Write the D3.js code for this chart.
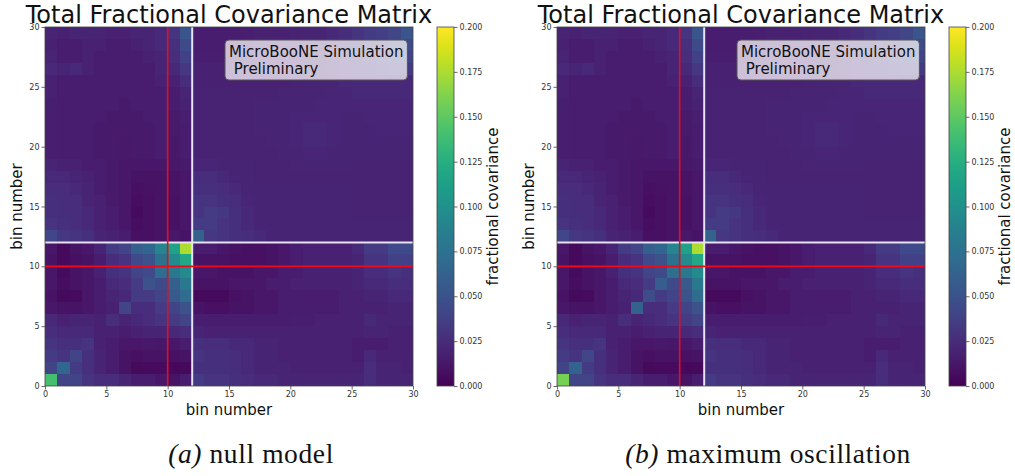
<!DOCTYPE html>
<html><head><meta charset="utf-8">
<script src="https://cdn.jsdelivr.net/npm/d3@7"></script>
<style>body{margin:0;background:#fff}svg{display:block}</style>
</head><body>
<svg id="c" width="1015" height="476"></svg>
<script>
// Fractional covariance (x 0.001), rows from bin 0 (bottom) to bin 29 (top), columns bin 0..29
const matrixNull = [
 [140,40,40,30,25,25,20,15,15,12,10,15, 35,30,30,28,25,22,22,20,20,20,20,20,20,20,25,20,20,20],
 [40,65,35,28,20,15,10,5,6,6,4,5, 28,28,28,25,22,20,20,20,18,18,18,18,18,18,25,20,20,18],
 [35,30,40,28,20,15,10,8,10,10,8,10, 30,28,28,25,22,20,20,18,18,18,18,18,18,16,22,18,18,18],
 [30,28,28,30,18,15,12,12,13,12,12,15, 28,25,25,22,22,20,20,18,18,18,18,18,18,16,16,16,18,18],
 [25,22,22,22,18,18,16,18,20,20,22,25, 20,18,18,18,18,18,18,18,18,18,18,18,18,18,20,20,18,18],
 [22,18,20,20,18,25,20,22,25,30,35,40, 15,15,15,15,15,15,16,16,17,17,18,18,18,18,22,20,20,20],
 [12,10,10,12,15,18,40,25,25,35,40,50, 10,8,8,10,10,12,12,15,15,15,16,16,18,18,18,18,20,20],
 [10,5,6,12,15,20,22,35,35,40,55,70, 5,5,5,8,10,12,12,15,15,15,16,16,18,18,20,20,22,22],
 [12,7,10,12,15,22,25,35,50,45,60,80, 10,10,10,12,12,12,15,15,18,18,18,18,18,20,22,22,25,25],
 [12,6,10,12,18,28,30,40,45,70,80,95, 12,12,10,10,10,12,12,15,15,18,18,18,18,20,25,25,30,28],
 [10,5,8,10,15,25,30,45,50,75,95,120, 10,10,10,8,8,8,10,12,15,18,18,18,18,20,30,30,38,38],
 [12,5,10,12,20,35,40,60,65,90,115,175, 15,15,12,10,8,8,10,12,15,18,18,18,18,22,35,35,45,45],
 [42,32,30,28,20,18,15,8,8,10,12,10, 62,32,30,28,25,22,20,20,20,20,20,20,20,20,20,20,20,20],
 [30,28,25,22,18,15,12,7,8,10,9,12, 35,35,30,28,22,20,20,20,20,20,20,20,20,20,20,20,20,20],
 [28,25,25,22,18,15,12,6,8,10,9,12, 30,35,32,28,22,20,20,20,20,20,20,20,20,19,19,19,19,19],
 [28,25,25,20,18,14,12,7,8,10,9,12, 30,30,28,25,21,20,20,20,20,20,20,20,20,19,19,19,19,19],
 [25,25,22,20,16,14,12,8,9,10,10,12, 28,28,25,22,20,20,20,20,20,20,20,20,20,19,19,19,19,19],
 [22,22,20,18,16,14,12,10,10,10,10,12, 25,25,22,20,20,19,19,19,19,19,19,19,19,19,19,19,19,19],
 [20,18,18,16,15,14,12,12,12,12,12,14, 21,21,20,20,20,19,19,19,20,20,20,20,20,19,19,19,19,19],
 [17,15,15,15,14,14,13,14,14,15,13,16, 19,19,19,19,19,19,19,20,20,21,21,20,20,20,20,20,20,20],
 [17,16,15,15,14,14,13,14,14,15,13,16, 19,19,19,19,19,19,20,20,21,22,22,21,20,20,20,20,20,20],
 [17,16,15,15,14,14,14,14,14,15,14,16, 19,19,19,19,19,20,20,20,21,22,22,21,20,20,20,21,21,21],
 [17,16,15,15,15,14,14,14,15,15,14,17, 19,19,19,19,19,20,20,20,21,21,21,21,20,20,21,21,21,21],
 [17,16,15,15,15,15,14,15,15,16,15,18, 19,19,19,19,19,20,20,20,20,20,21,21,21,21,21,21,21,21],
 [18,16,16,16,15,15,15,15,15,16,16,20, 19,19,19,19,19,19,19,20,20,20,20,21,21,22,22,22,22,22],
 [18,16,16,16,15,15,15,15,16,18,18,25, 18,18,18,18,18,18,18,18,19,20,20,20,22,22,23,23,23,23],
 [22,20,22,18,16,15,15,16,16,20,22,32, 18,18,18,18,18,18,18,18,19,20,20,22,25,26,28,30,33,33],
 [20,16,16,18,16,15,15,16,18,20,25,38, 17,17,17,17,17,18,18,18,19,20,20,22,25,28,30,32,36,40],
 [18,16,16,18,18,16,16,18,20,22,28,45, 16,16,16,16,17,18,18,18,19,20,20,22,25,28,33,35,40,45],
 [20,18,20,20,20,18,18,20,20,22,30,52, 16,16,16,16,17,18,18,18,19,20,20,22,26,30,35,36,42,52]
];
// cells that differ in the maximum-oscillation matrix: [row, col, value x 0.001]
const oscChanges = [[0,0,158],[1,1,62],[2,2,42],[6,6,62],[7,7,46],[8,8,58],[9,9,72],[7,10,50],[8,10,55]];
const binTicks = [0,5,10,15,20,25,30];
const cbarTicks = [0,0.025,0.05,0.075,0.1,0.125,0.15,0.175,0.2];
const titleText = "Total Fractional Covariance Matrix";
const axisLabel = "bin number";
const cbarLabel = "fractional covariance";
const noteLines = ["MicroBooNE Simulation", " Preliminary"];
const captions = [["(a)", " null model"], ["(b)", " maximum oscillation"]];
const redLineAt = 10, whiteLineAt = 12;

const matrixOsc = matrixNull.map(r => r.slice());
oscChanges.forEach(([r,c,v]) => { matrixOsc[r][c] = v; });

const svg = d3.select("#c");
const color = d3.scaleSequential(d3.interpolateViridis).domain([0, 0.2]);
const panels = [
  {m: matrixNull, x0: 45, x1: 413, cb: 437, cap: captions[0], capX: 251},
  {m: matrixOsc, x0: 557, x1: 925, cb: 949, cap: captions[1], capX: 768}
];
const y0 = 27, y1 = 386;
const font = "DejaVu Sans, sans-serif";

panels.forEach((p, pi) => {
  const g = svg.append("g");
  const x = d3.scaleLinear().domain([0, 30]).range([p.x0, p.x1]);
  const y = d3.scaleLinear().domain([0, 30]).range([y1, y0]);
  const cells = [];
  p.m.forEach((row, r) => row.forEach((v, c) => cells.push({r, c, v: v / 1000})));
  g.selectAll("rect.cell").data(cells).enter().append("rect")
    .attr("shape-rendering", "crispEdges")
    .attr("x", d => Math.round(x(d.c))).attr("y", d => Math.round(y(d.r + 1)))
    .attr("width", d => Math.round(x(d.c + 1)) - Math.round(x(d.c)))
    .attr("height", d => Math.round(y(d.r)) - Math.round(y(d.r + 1)))
    .attr("fill", d => color(d.v));
  // lines
  g.append("line").attr("x1", x(whiteLineAt)).attr("x2", x(whiteLineAt)).attr("y1", y0).attr("y2", y1)
    .attr("stroke", "#e6e2ee").attr("stroke-width", 2);
  g.append("line").attr("y1", y(whiteLineAt)).attr("y2", y(whiteLineAt)).attr("x1", p.x0).attr("x2", p.x1)
    .attr("stroke", "#e6e2ee").attr("stroke-width", 2);
  g.append("line").attr("x1", x(redLineAt)).attr("x2", x(redLineAt)).attr("y1", y0).attr("y2", y1)
    .attr("stroke", "#ee0a18").attr("stroke-width", 1.6);
  g.append("line").attr("y1", y(redLineAt)).attr("y2", y(redLineAt)).attr("x1", p.x0).attr("x2", p.x1)
    .attr("stroke", "#ee0a18").attr("stroke-width", 1.6);
  // frame
  g.append("rect").attr("x", p.x0).attr("y", y0).attr("width", p.x1 - p.x0).attr("height", y1 - y0)
    .attr("fill", "none").attr("stroke", "#444").attr("stroke-width", 0.8);
  // axes
  const ax = g.append("g").attr("transform", `translate(0,${y1})`)
    .call(d3.axisBottom(x).tickValues(binTicks).tickSize(3.5).tickPadding(2).tickFormat(d3.format("d")));
  const ay = g.append("g").attr("transform", `translate(${p.x0},0)`)
    .call(d3.axisLeft(y).tickValues(binTicks).tickSize(3.5).tickPadding(2).tickFormat(d3.format("d")));
  [ax, ay].forEach(a => {
    a.select(".domain").remove();
    a.selectAll("line").attr("stroke", "#444").attr("stroke-width", 0.8);
    a.selectAll("text").attr("font-family", font).attr("font-size", 8).attr("fill", "#333");
  });
  // labels
  g.append("text").attr("x", (p.x0 + p.x1) / 2).attr("y", 22.5).attr("text-anchor", "middle")
    .attr("font-family", font).attr("font-size", 24).attr("fill", "#111").text(titleText);
  g.append("text").attr("x", (p.x0 + p.x1) / 2).attr("y", 415).attr("text-anchor", "middle")
    .attr("font-family", font).attr("font-size", 15).attr("fill", "#111").text(axisLabel);
  g.append("text").attr("transform", `translate(${p.x0 - 23},${(y0 + y1) / 2}) rotate(-90)`)
    .attr("text-anchor", "middle")
    .attr("font-family", font).attr("font-size", 15).attr("fill", "#111").text(axisLabel);
  // annotation
  const ng = g.append("g");
  const box = ng.append("rect");
  const t = ng.append("text").attr("font-family", font).attr("font-size", 15).attr("fill", "#111")
    .attr("xml:space", "preserve").style("white-space", "pre");
  noteLines.forEach((s, i) => t.append("tspan").attr("x", x(15)).attr("y", 57 + i * 17).text(s));
  const bb = t.node().getBBox();
  box.attr("x", bb.x - 4).attr("y", bb.y - 3).attr("width", bb.width + 8).attr("height", bb.height + 5)
    .attr("rx", 4).attr("fill", "#ffffff").attr("fill-opacity", 0.72)
    .attr("stroke", "#555").attr("stroke-width", 1);
  // colorbar
  const gid = "grad" + pi;
  const grad = svg.append("defs").append("linearGradient").attr("id", gid)
    .attr("x1", 0).attr("y1", 1).attr("x2", 0).attr("y2", 0);
  d3.range(0, 1.0001, 0.05).forEach(s => grad.append("stop").attr("offset", s).attr("stop-color", color(s * 0.2)));
  const cy = d3.scaleLinear().domain([0, 0.2]).range([y1, y0]);
  g.append("rect").attr("x", p.cb).attr("y", y0).attr("width", 17).attr("height", y1 - y0)
    .attr("fill", `url(#${gid})`).attr("stroke", "#444").attr("stroke-width", 0.8);
  const ac = g.append("g").attr("transform", `translate(${p.cb + 17},0)`)
    .call(d3.axisRight(cy).tickValues(cbarTicks).tickSize(3.5).tickPadding(2).tickFormat(d3.format(".3f")));
  ac.select(".domain").remove();
  ac.selectAll("line").attr("stroke", "#444").attr("stroke-width", 0.8);
  ac.selectAll("text").attr("font-family", font).attr("font-size", 8).attr("fill", "#333");
  g.append("text").attr("transform", `translate(${p.cb + 61},${(y0 + y1) / 2}) rotate(-90)`)
    .attr("text-anchor", "middle")
    .attr("font-family", font).attr("font-size", 15).attr("fill", "#111").text(cbarLabel);
  // caption
  const ct = svg.append("text").attr("x", p.capX).attr("y", 463).attr("text-anchor", "middle")
    .attr("font-family", "Liberation Serif, serif").attr("font-size", 27.5).attr("fill", "#111")
    .attr("letter-spacing", 0.6)
    .attr("xml:space", "preserve").style("white-space", "pre");
  ct.append("tspan").attr("font-style", "italic").text(p.cap[0]);
  ct.append("tspan").text(p.cap[1]);
});
</script>
</body></html>
